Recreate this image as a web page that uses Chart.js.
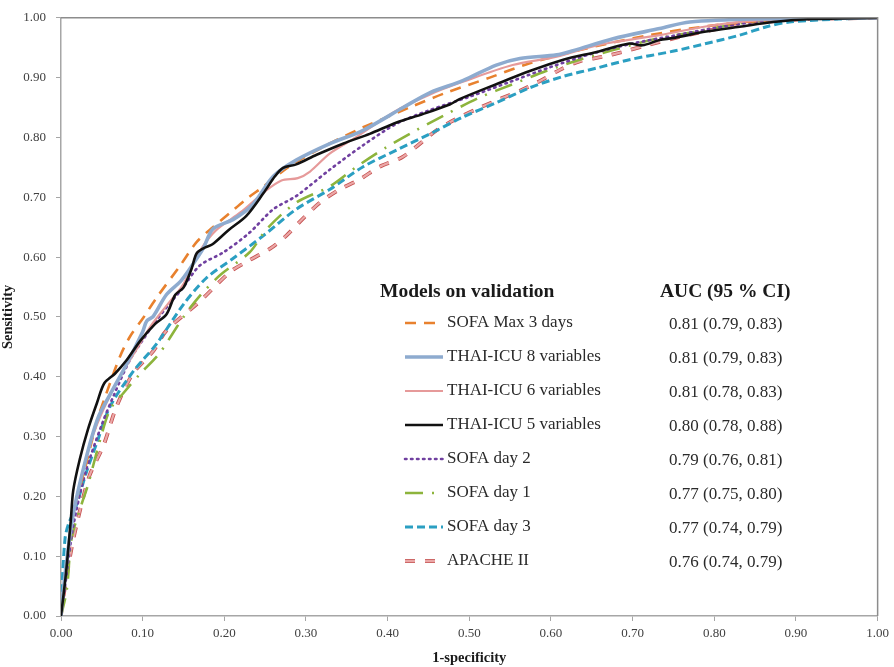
<!DOCTYPE html>
<html>
<head>
<meta charset="utf-8">
<script src="https://cdn.jsdelivr.net/npm/chart.js@4/dist/chart.umd.min.js"></script>
<style>
html,body{margin:0;padding:0;background:#fff;}
#wrap{width:894px;height:667px;position:relative;}
</style>
</head>
<body>
<div id="wrap"><canvas id="c" width="894" height="667"></canvas></div>
<script>
// ---- data (x = 1-specificity, y = sensitivity) ----
const seriesNames = ["SOFA Max 3 days","THAI-ICU 8 variables","THAI-ICU 6 variables","THAI-ICU 5 variables","SOFA day 2","SOFA day 1","SOFA day 3","APACHE II"];
const aucLabels = ["0.81 (0.79, 0.83)","0.81 (0.79, 0.83)","0.81 (0.78, 0.83)","0.80 (0.78, 0.88)","0.79 (0.76, 0.81)","0.77 (0.75, 0.80)","0.77 (0.74, 0.79)","0.76 (0.74, 0.79)"];
const xTicks = [0,0.1,0.2,0.3,0.4,0.5,0.6,0.7,0.8,0.9,1];
const yTicks = [0,0.1,0.2,0.3,0.4,0.5,0.6,0.7,0.8,0.9,1];

const sofaMaxX = [0,0.005,0.015,0.03,0.045,0.055,0.072,0.084,0.101,0.117,0.146,0.166,0.186,0.207,0.227,0.248,0.28,0.321,0.37,0.394,0.43,0.472,0.525,0.574,0.635,0.68,0.721,0.77,0.83,0.9,1];
const sofaMaxY = [0,0.06,0.17,0.25,0.33,0.37,0.433,0.466,0.499,0.532,0.586,0.625,0.65,0.674,0.697,0.718,0.752,0.784,0.817,0.831,0.852,0.875,0.9,0.924,0.946,0.96,0.971,0.982,0.992,0.998,1];

const thai8X = [0,0.005,0.015,0.03,0.045,0.06,0.08,0.1,0.105,0.113,0.129,0.146,0.158,0.174,0.186,0.211,0.235,0.26,0.288,0.33,0.37,0.419,0.452,0.492,0.533,0.562,0.607,0.627,0.676,0.733,0.77,0.85,1];
const thai8Y = [0,0.07,0.17,0.26,0.33,0.37,0.42,0.475,0.493,0.501,0.537,0.559,0.581,0.614,0.647,0.663,0.688,0.735,0.762,0.79,0.812,0.85,0.875,0.895,0.921,0.932,0.938,0.945,0.965,0.982,0.993,0.998,1];

const thai6X = [0,0.005,0.015,0.03,0.044,0.068,0.09,0.11,0.13,0.15,0.17,0.19,0.22,0.25,0.27,0.29,0.305,0.329,0.362,0.411,0.452,0.492,0.553,0.607,0.656,0.733,0.8,0.87,1];
const thai6Y = [0,0.06,0.17,0.26,0.32,0.39,0.44,0.485,0.52,0.555,0.61,0.645,0.675,0.71,0.728,0.732,0.743,0.773,0.801,0.845,0.872,0.893,0.921,0.935,0.954,0.971,0.988,0.997,1];

const thai5X = [0,0.006,0.012,0.015,0.023,0.033,0.044,0.053,0.066,0.08,0.097,0.115,0.129,0.14,0.15,0.16,0.166,0.175,0.185,0.205,0.227,0.248,0.262,0.272,0.288,0.313,0.346,0.378,0.411,0.443,0.476,0.488,0.533,0.574,0.615,0.656,0.696,0.712,0.733,0.749,0.79,0.831,0.872,0.92,1];
const thai5Y = [0,0.07,0.16,0.21,0.262,0.312,0.356,0.389,0.405,0.427,0.46,0.488,0.504,0.537,0.549,0.581,0.606,0.615,0.621,0.645,0.669,0.707,0.735,0.749,0.755,0.771,0.79,0.806,0.825,0.839,0.855,0.864,0.889,0.911,0.93,0.943,0.957,0.954,0.963,0.966,0.977,0.985,0.993,0.998,1];

const sofa2X = [0,0.005,0.015,0.03,0.05,0.065,0.084,0.097,0.12,0.15,0.17,0.199,0.231,0.26,0.288,0.329,0.37,0.411,0.45,0.5,0.55,0.6,0.65,0.7,0.75,0.8,0.85,0.9,1];
const sofa2Y = [0,0.05,0.15,0.24,0.32,0.37,0.427,0.455,0.5,0.55,0.586,0.608,0.641,0.68,0.702,0.746,0.787,0.823,0.845,0.868,0.893,0.918,0.94,0.957,0.97,0.983,0.993,0.998,1];

const sofa1X = [0,0.007,0.013,0.025,0.033,0.048,0.06,0.076,0.097,0.121,0.15,0.17,0.195,0.231,0.252,0.288,0.329,0.362,0.399,0.435,0.472,0.513,0.553,0.594,0.635,0.676,0.729,0.77,0.843,0.9,1];
const sofa1Y = [0,0.043,0.13,0.186,0.219,0.295,0.345,0.372,0.405,0.44,0.5,0.535,0.57,0.608,0.647,0.691,0.718,0.751,0.784,0.812,0.839,0.867,0.889,0.911,0.93,0.946,0.965,0.975,0.993,0.998,1];

const sofa3X = [0,0.001,0.005,0.009,0.019,0.031,0.044,0.06,0.088,0.117,0.15,0.178,0.211,0.248,0.288,0.329,0.37,0.411,0.452,0.492,0.533,0.574,0.615,0.656,0.696,0.749,0.79,0.831,0.864,0.892,0.953,1];
const sofa3Y = [0,0.043,0.13,0.153,0.186,0.24,0.29,0.35,0.408,0.455,0.521,0.565,0.598,0.636,0.68,0.713,0.751,0.779,0.806,0.834,0.858,0.883,0.902,0.916,0.93,0.944,0.957,0.971,0.985,0.993,0.998,1];

const apacheX = [0,0.001,0.013,0.023,0.035,0.052,0.068,0.088,0.113,0.129,0.17,0.207,0.227,0.256,0.276,0.296,0.317,0.341,0.366,0.39,0.419,0.46,0.484,0.513,0.537,0.562,0.586,0.611,0.635,0.664,0.688,0.717,0.77,0.831,0.9,1];
const apacheY = [0,0.015,0.114,0.175,0.235,0.285,0.35,0.405,0.443,0.477,0.526,0.575,0.592,0.614,0.636,0.664,0.691,0.713,0.73,0.751,0.768,0.812,0.831,0.85,0.864,0.878,0.894,0.913,0.927,0.935,0.943,0.954,0.972,0.988,0.997,1];

function pts(xs, ys){ return xs.map((x,i)=>({x:x, y:ys[i]})); }

const styles = [
  {color:'#e8812e', width:2.6, dash:[11,8], order:3},
  {color:'#8eabcf', width:3.6, dash:[], order:1},
  {color:'#e69a9a', width:2.2, dash:[], order:2},
  {color:'#111111', width:2.6, dash:[], order:0},
  {color:'#7040a0', width:2.6, dash:[1.5,4.5], order:4, cap:'round'},
  {color:'#8db43c', width:2.6, dash:[18,9,2,9], order:5},
  {color:'#2b9fc2', width:3, dash:[8,4], order:6},
  {color:'#eba7a7', width:2.2, dash:[10,10], order:7, outline:'#c4504f'}
];
const xsAll = [sofaMaxX, thai8X, thai6X, thai5X, sofa2X, sofa1X, sofa3X, apacheX];
const ysAll = [sofaMaxY, thai8Y, thai6Y, thai5Y, sofa2Y, sofa1Y, sofa3Y, apacheY];

const datasets = [];
seriesNames.forEach((name,i)=>{
  const s = styles[i];
  if (s.outline) {
    datasets.push({label:name+' outline', data:pts(xsAll[i], ysAll[i]), showLine:true, pointRadius:0,
      borderColor:s.outline, borderWidth:s.width+1.6, borderDash:s.dash, fill:false, tension:0.3, order:s.order+1});
  }
  datasets.push({label:name, data:pts(xsAll[i], ysAll[i]), showLine:true, pointRadius:0,
    borderColor:s.color, borderWidth:s.width, borderDash:s.dash, borderCapStyle:s.cap||'butt', fill:false, tension:0.3, order:s.order});
});

const serif = "'Liberation Serif','Times New Roman',serif";
Chart.defaults.font.family = serif;
Chart.defaults.color = '#404040';

const frame = {
  id:'frame',
  afterDatasetsDraw(chart){
    const {ctx, chartArea:a} = chart;
    ctx.save();
    ctx.strokeStyle = '#8c8c8c';
    ctx.lineWidth = 1.5;
    ctx.beginPath();
    ctx.moveTo(a.left, a.top); ctx.lineTo(a.right, a.top); ctx.lineTo(a.right, a.bottom);
    ctx.stroke();
    ctx.restore();
  }
};

const legendBox = {
  id:'legendBox',
  afterDraw(chart){
    const ctx = chart.ctx;
    ctx.save();
    ctx.fillStyle = '#1a1a1a';
    ctx.textBaseline = 'middle';
    ctx.textAlign = 'left';
    ctx.font = "bold 19.5px " + serif;
    ctx.fillText('Models on validation', 380, 292);
    ctx.fillText('AUC (95 % CI)', 660, 292);
    ctx.font = "17px " + serif;
    seriesNames.forEach((name,i)=>{
      const y = 323 + 34*i;
      const s = styles[i];
      const drawSample = (color, width) => {
        ctx.beginPath();
        ctx.setLineDash(s.dash);
        ctx.lineCap = s.cap || 'butt';
        ctx.strokeStyle = color; ctx.lineWidth = width;
        ctx.moveTo(405, y); ctx.lineTo(443, y); ctx.stroke();
      };
      if (s.outline) drawSample(s.outline, s.width+1.6);
      drawSample(s.color, s.width);
      ctx.setLineDash([]);
      ctx.fillStyle = '#2a2a2a';
      ctx.fillText(name, 447, y);
      ctx.fillText(aucLabels[i], 669, y + 2);
    });
    ctx.restore();
  }
};

new Chart(document.getElementById('c'), {
  type:'scatter',
  data:{datasets},
  options:{
    responsive:false,
    animation:false,
    layout:{padding:{top:9, right:16, left:0, bottom:0}},
    plugins:{legend:{display:false}, tooltip:{enabled:false}},
    scales:{
      x:{
        type:'linear', min:0, max:1,
        afterBuildTicks(scale){ scale.ticks = xTicks.map(v=>({value:v})); },
        afterFit(scale){ scale.height = 51; },
        ticks:{callback:v=>Number(v).toFixed(2), font:{size:13}, color:'#404040', padding:5, maxRotation:0},
        grid:{display:true, drawOnChartArea:false, drawTicks:true, tickLength:5, color:'#a6a6a6'},
        border:{display:true, color:'#a6a6a6', width:1.5},
        title:{display:true, text:'1-specificity', font:{size:14.5, weight:'bold'}, color:'#1a1a1a', padding:{top:4, bottom:0}}
      },
      y:{
        type:'linear', min:0, max:1,
        afterBuildTicks(scale){ scale.ticks = yTicks.map(v=>({value:v})); },
        afterFit(scale){ scale.width = 61; },
        ticks:{callback:v=>Number(v).toFixed(2), font:{size:13}, color:'#404040', padding:10},
        grid:{display:true, drawOnChartArea:false, drawTicks:true, tickLength:5, color:'#a6a6a6'},
        border:{display:true, color:'#a6a6a6', width:1.5},
        title:{display:true, text:'Sensitivity', font:{size:14.5, weight:'bold'}, color:'#1a1a1a', padding:{top:0, bottom:0}}
      }
    }
  },
  plugins:[frame, legendBox]
});
</script>
</body>
</html>
